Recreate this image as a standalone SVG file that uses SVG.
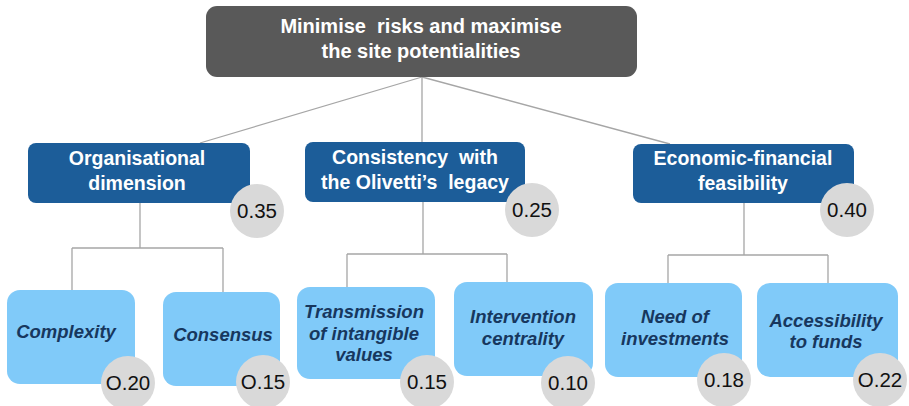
<svg xmlns="http://www.w3.org/2000/svg" width="909" height="406" viewBox="0 0 909 406">
<style>
.root{fill:#595959}
.mid{fill:#1c5d99}
.leaf{fill:#80caf9}
.w{fill:#d9d9d9}
.t1{font-family:"Liberation Sans",Arial,sans-serif;font-weight:bold;font-size:20px;fill:#fff;text-anchor:middle}
.t2{font-family:"Liberation Sans",Arial,sans-serif;font-weight:bold;font-size:19.5px;fill:#fff;text-anchor:middle}
.t3{font-family:"Liberation Sans",Arial,sans-serif;font-weight:bold;font-style:italic;font-size:18.5px;fill:#17375e;text-anchor:middle}
.tn{font-family:"Liberation Sans",Arial,sans-serif;font-size:20.5px;fill:#111;text-anchor:middle}
.c{fill:none;stroke:#a6a6a6;stroke-width:1.3}
</style>
<g id="connectors">
<path class="c" d="M422,77 L200,143 M422,77 L422,142 M422,77 L670,144"/>
<path class="c" d="M140,203 V248 M72,248 H223 M72,248 V290 M223,248 V292"/>
<path class="c" d="M423,202 V254 M347,254 H507 M347,254 V287 M507,254 V282"/>
<path class="c" d="M744,203 V255 M668,255 H828 M668,255 V283 M828,255 V283"/>
</g>
<g id="root">
<rect class="root" x="206" y="6" width="431" height="71" rx="11"/>
<text class="t1" x="421" y="33" xml:space="preserve">Minimise  risks and maximise</text>
<text class="t1" x="421" y="58">the site potentialities</text>
</g>
<g id="org">
<rect class="mid" x="28" y="143" width="222" height="60" rx="8"/>
<text class="t2" x="137" y="165">Organisational</text>
<text class="t2" x="137" y="190">dimension</text>
<circle class="w" cx="257" cy="211" r="27"/>
<text class="tn" x="257" y="218">0.35</text>
</g>
<g id="cons">
<rect class="mid" x="305" y="142" width="220" height="60" rx="8"/>
<text class="t2" x="415" y="164" xml:space="preserve">Consistency  with</text>
<text class="t2" x="415" y="189" xml:space="preserve">the Olivetti’s  legacy</text>
<circle class="w" cx="532" cy="210" r="27"/>
<text class="tn" x="532" y="217">0.25</text>
</g>
<g id="eco">
<rect class="mid" x="633" y="144" width="221" height="59" rx="8"/>
<text class="t2" x="743" y="165">Economic-financial</text>
<text class="t2" x="743" y="190">feasibility</text>
<circle class="w" cx="847" cy="210" r="27"/>
<text class="tn" x="847" y="217">0.40</text>
</g>
<g id="complexity">
<rect class="leaf" x="7" y="290" width="128" height="94" rx="13"/>
<text class="t3" x="66" y="338">Complexity</text>
<circle class="w" cx="128" cy="383" r="27"/>
<text class="tn" x="128" y="390">O.20</text>
</g>
<g id="consensus">
<rect class="leaf" x="163" y="292" width="117" height="94" rx="13"/>
<text class="t3" x="223" y="341">Consensus</text>
<circle class="w" cx="263" cy="382" r="27"/>
<text class="tn" x="263" y="389">O.15</text>
</g>
<g id="transmission">
<rect class="leaf" x="297" y="287" width="138" height="92" rx="13"/>
<text class="t3" x="364" y="318">Transmission</text>
<text class="t3" x="364" y="340">of intangible</text>
<text class="t3" x="364" y="361">values</text>
<circle class="w" cx="427" cy="382" r="27"/>
<text class="tn" x="427" y="389">0.15</text>
</g>
<g id="intervention">
<rect class="leaf" x="454" y="282" width="139" height="94" rx="13"/>
<text class="t3" x="523" y="323">Intervention</text>
<text class="t3" x="523" y="345">centrality</text>
<circle class="w" cx="568" cy="383" r="27"/>
<text class="tn" x="568" y="390">0.10</text>
</g>
<g id="need">
<rect class="leaf" x="605" y="283" width="137" height="94" rx="13"/>
<text class="t3" x="675" y="323">Need of</text>
<text class="t3" x="675" y="345">investments</text>
<circle class="w" cx="724" cy="380" r="27"/>
<text class="tn" x="724" y="387">0.18</text>
</g>
<g id="access">
<rect class="leaf" x="757" y="283" width="141" height="94" rx="13"/>
<text class="t3" x="826" y="327">Accessibility</text>
<text class="t3" x="826" y="348">to funds</text>
<circle class="w" cx="880" cy="380" r="27"/>
<text class="tn" x="880" y="387">O.22</text>
</g>
</svg>
